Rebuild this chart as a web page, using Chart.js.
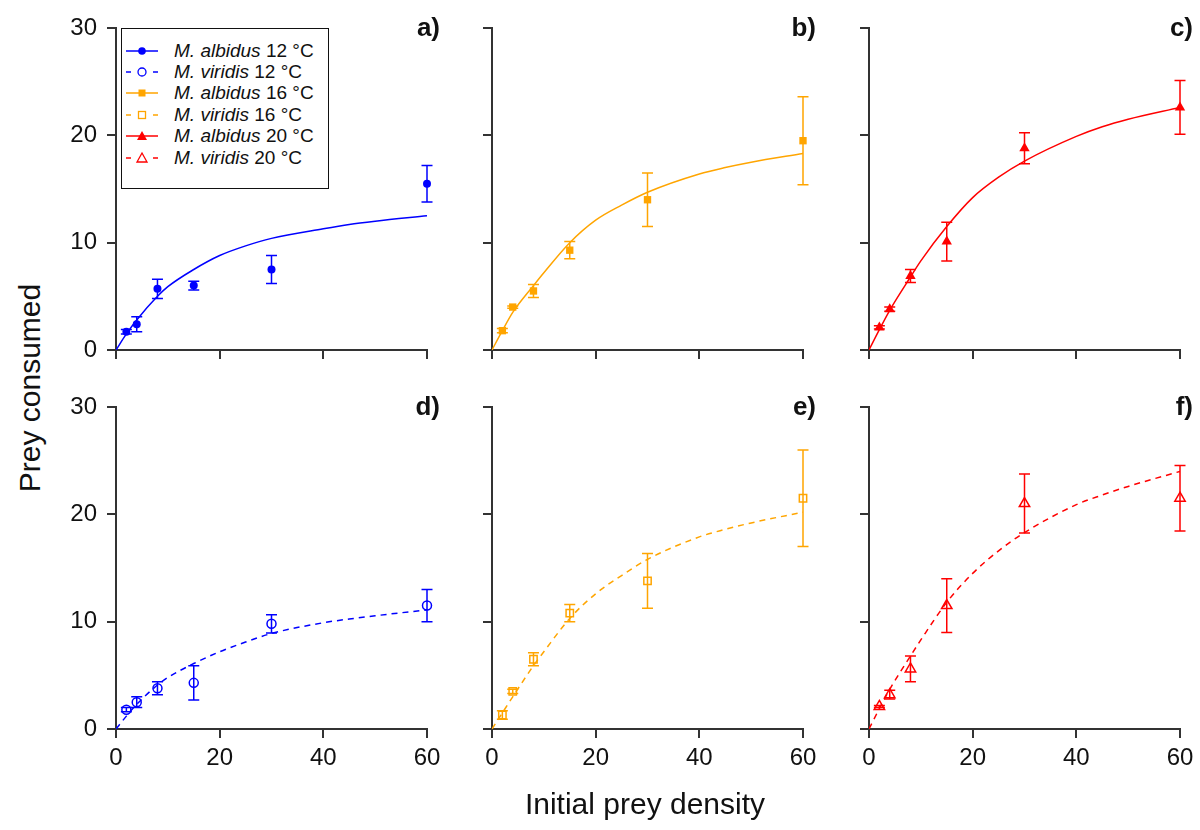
<!DOCTYPE html>
<html>
<head>
<meta charset="utf-8">
<script src="https://cdn.jsdelivr.net/npm/chart.js@4.4.1/dist/chart.umd.min.js"></script>
<style>
  body { margin: 0; width: 1200px; height: 830px; background: #fff; position: relative; overflow: hidden;
         font-family: "Liberation Sans", Arial, sans-serif; color: #111; }
  canvas { position: absolute; }
  .tag { position: absolute; width: 60px; text-align: right; font-weight: bold; font-size: 26px; line-height: 26px; }
  .axis-title { position: absolute; font-size: 30px; white-space: nowrap; transform: translate(-50%, -50%); }
  .legend { position: absolute; left: 121px; top: 28px; width: 206px; height: 148px; border: 1px solid #111;
            background: #fff; padding-top: 11px; box-sizing: content-box; }
  .legend .row { height: 21.4px; display: flex; align-items: center; font-size: 19px; white-space: nowrap; }
  .legend svg { margin-left: 4px; margin-right: 16px; }
</style>
</head>
<body>
<script>
// Initial prey density of the trials
const preyDensity = [2, 4, 8, 15, 30, 60];
const curveDensity = [0, 2, 4, 8, 10, 15, 20, 25, 30, 40, 45, 50, 60];
const xTicks = [0, 20, 40, 60];
const yTicks = [0, 10, 20, 30];

// mean prey consumed and error (half length of bar)
const albidus12Mean = [1.7, 2.4, 5.7, 6.0, 7.5, 15.5];
const albidus12Err  = [0.2, 0.7, 0.9, 0.4, 1.3, 1.7];
const albidus16Mean = [1.8, 4.0, 5.5, 9.3, 14.0, 19.5];
const albidus16Err  = [0.2, 0.1, 0.6, 0.8, 2.5, 4.1];
const albidus20Mean = [2.1, 3.8, 6.9, 10.1, 18.8, 22.6];
const albidus20Err  = [0.15, 0.2, 0.6, 1.8, 1.45, 2.5];
const viridis12Mean = [1.8, 2.5, 3.8, 4.3, 9.8, 11.5];
const viridis12Err  = [0.2, 0.5, 0.6, 1.6, 0.85, 1.5];
const viridis16Mean = [1.3, 3.5, 6.5, 10.8, 13.8, 21.5];
const viridis16Err  = [0.4, 0.2, 0.6, 0.8, 2.55, 4.5];
const viridis20Mean = [2.1, 3.2, 5.6, 11.5, 21.0, 21.5];
const viridis20Err  = [0.1, 0.4, 1.2, 2.5, 2.75, 3.05];

// fitted functional response curves (read at curveDensity)
const albidus12Fit = [0, 1.5, 2.8, 5.0, 5.9, 7.5, 8.8, 9.7, 10.4, 11.3, 11.7, 12.0, 12.5];
const albidus16Fit = [0, 1.8, 3.5, 6.0, 7.2, 10.0, 12.1, 13.5, 14.7, 16.4, 17.0, 17.5, 18.3];
const albidus20Fit = [0, 1.9, 3.7, 6.8, 8.3, 11.5, 14.2, 16.1, 17.6, 19.9, 20.8, 21.5, 22.6];
const viridis12Fit = [0, 1.2, 2.3, 4.1, 4.8, 6.1, 7.2, 8.1, 8.9, 9.9, 10.25, 10.55, 11.1];
const viridis16Fit = [0, 1.5, 3.0, 5.9, 7.2, 10.3, 12.6, 14.3, 15.8, 17.9, 18.6, 19.2, 20.2];
const viridis20Fit = [0, 1.9, 3.7, 6.8, 8.3, 11.8, 14.5, 16.6, 18.3, 20.9, 21.8, 22.6, 24.0];

const BLUE = '#0000ff', ORANGE = '#ffa500', RED = '#ff0000';
const FONT = '"Liberation Sans", Arial, sans-serif';

const panels = [
  { tag: 'a)', mean: albidus12Mean, err: albidus12Err, fit: albidus12Fit, color: BLUE,   marker: 'circle',   open: false, col: 0, row: 0 },
  { tag: 'b)', mean: albidus16Mean, err: albidus16Err, fit: albidus16Fit, color: ORANGE, marker: 'rect',     open: false, col: 1, row: 0 },
  { tag: 'c)', mean: albidus20Mean, err: albidus20Err, fit: albidus20Fit, color: RED,    marker: 'triangle', open: false, col: 2, row: 0 },
  { tag: 'd)', mean: viridis12Mean, err: viridis12Err, fit: viridis12Fit, color: BLUE,   marker: 'circle',   open: true,  col: 0, row: 1 },
  { tag: 'e)', mean: viridis16Mean, err: viridis16Err, fit: viridis16Fit, color: ORANGE, marker: 'rect',     open: true,  col: 1, row: 1 },
  { tag: 'f)', mean: viridis20Mean, err: viridis20Err, fit: viridis20Fit, color: RED,    marker: 'triangle', open: true,  col: 2, row: 1 }
];

const colLeft = [116, 492, 869];
const rowTop = [28, 407];
const plotW = 311, plotH = 322;
const padTop = 30, padRight = 20, yAxisW = 60, xAxisH = 50;

// vertical error bars with caps
const errorBars = {
  id: 'errorBars',
  beforeDatasetsDraw(chart) {
    const ds = chart.data.datasets[1];
    const { ctx, scales: { x, y } } = chart;
    ctx.save();
    ctx.strokeStyle = ds.pointBorderColor;
    ctx.lineWidth = 1.5;
    ds.data.forEach((pt, i) => {
      const e = ds.errors[i];
      const px = x.getPixelForValue(pt.x);
      const top = y.getPixelForValue(pt.y + e);
      const bot = y.getPixelForValue(pt.y - e);
      ctx.beginPath();
      ctx.moveTo(px, top); ctx.lineTo(px, bot);
      ctx.moveTo(px - 5.5, top); ctx.lineTo(px + 5.5, top);
      ctx.moveTo(px - 5.5, bot); ctx.lineTo(px + 5.5, bot);
      ctx.stroke();
    });
    ctx.restore();
  }
};

function markerSize(p) {
  if (p.marker === 'rect') return 5.2;
  if (p.marker === 'triangle') return 6;
  return p.open ? 4.5 : 4;
}

panels.forEach(p => {
  const left = colLeft[p.col], top = rowTop[p.row];
  const canvas = document.createElement('canvas');
  canvas.width = plotW + yAxisW + padRight;
  canvas.height = plotH + padTop + xAxisH;
  canvas.style.left = (left - yAxisW) + 'px';
  canvas.style.top = (top - padTop) + 'px';
  document.body.appendChild(canvas);

  const tag = document.createElement('div');
  tag.className = 'tag';
  tag.textContent = p.tag;
  tag.style.left = (left + plotW + 13 - 60) + 'px';
  tag.style.top = (top - 14) + 'px';
  document.body.appendChild(tag);

  const axisGrid = { drawOnChartArea: false, drawTicks: true, tickLength: 9, color: '#333', lineWidth: 2 };
  const axisBorder = { color: '#333', width: 2 };

  new Chart(canvas, {
    type: 'line',
    data: {
      datasets: [
        {
          data: curveDensity.map((x, i) => ({ x, y: p.fit[i] })),
          borderColor: p.color,
          borderWidth: 1.5,
          borderDash: p.open ? [6, 5] : [],
          pointRadius: 0,
          cubicInterpolationMode: 'monotone',
          fill: false
        },
        {
          data: preyDensity.map((x, i) => ({ x, y: p.mean[i] })),
          errors: p.err,
          showLine: false,
          clip: false,
          pointStyle: p.marker,
          pointRadius: markerSize(p),
          pointBackgroundColor: p.open ? 'rgba(0,0,0,0)' : p.color,
          pointBorderColor: p.color,
          pointBorderWidth: p.open ? 1.5 : 0
        }
      ]
    },
    options: {
      responsive: false,
      animation: false,
      events: [],
      layout: { padding: { top: padTop, right: padRight, left: 0, bottom: 0 } },
      plugins: { legend: { display: false }, tooltip: { enabled: false } },
      scales: {
        x: {
          type: 'linear', min: 0, max: 60,
          afterBuildTicks: s => { s.ticks = xTicks.map(v => ({ value: v })); },
          afterFit: s => { s.height = xAxisH; },
          ticks: { display: p.row === 1, color: '#111', font: { size: 24, family: FONT }, padding: 6, maxRotation: 0 },
          grid: axisGrid,
          border: axisBorder
        },
        y: {
          min: 0, max: 30,
          afterBuildTicks: s => { s.ticks = yTicks.map(v => ({ value: v })); },
          afterFit: s => { s.width = yAxisW; },
          ticks: { display: p.col === 0, color: '#111', font: { size: 24, family: FONT }, padding: 10 },
          grid: axisGrid,
          border: axisBorder
        }
      }
    },
    plugins: [errorBars]
  });
});

// legend in panel a
const legendSpecies = ['M. albidus', 'M. viridis'];
const legendTemps = ['12 °C', '16 °C', '20 °C'];
const legendColors = [BLUE, ORANGE, RED];
const legendMarkers = ['circle', 'rect', 'triangle'];

function markerSvg(kind, color, open) {
  const fill = open ? 'none' : color;
  const stroke = open ? `stroke="${color}" stroke-width="1.3"` : '';
  if (kind === 'circle') return `<circle cx="16" cy="8" r="${open ? 4 : 3.8}" fill="${fill}" ${stroke}/>`;
  if (kind === 'rect') return `<rect x="12.5" y="4.5" width="7" height="7" fill="${fill}" ${stroke}/>`;
  return `<polygon points="16,3 21,12 11,12" fill="${fill}" ${stroke}/>`;
}

const legend = document.createElement('div');
legend.className = 'legend';
legendTemps.forEach((t, ti) => {
  legendSpecies.forEach((s, si) => {
    const open = si === 1;
    const c = legendColors[ti];
    const line = open
      ? `<line x1="0" y1="8" x2="5" y2="8" stroke="${c}" stroke-width="1.5"/><line x1="27" y1="8" x2="32" y2="8" stroke="${c}" stroke-width="1.5"/>`
      : `<line x1="0" y1="8" x2="32" y2="8" stroke="${c}" stroke-width="1.5"/>`;
    const row = document.createElement('div');
    row.className = 'row';
    row.innerHTML = `<svg width="32" height="16">${line}${markerSvg(legendMarkers[ti], c, open)}</svg><span><i>${s}</i> ${t}</span>`;
    legend.appendChild(row);
  });
});
document.body.appendChild(legend);

const yTitle = document.createElement('div');
yTitle.className = 'axis-title';
yTitle.textContent = 'Prey consumed';
yTitle.style.left = '30px';
yTitle.style.top = '388px';
yTitle.style.transform = 'translate(-50%, -50%) rotate(-90deg)';
document.body.appendChild(yTitle);

const xTitle = document.createElement('div');
xTitle.className = 'axis-title';
xTitle.textContent = 'Initial prey density';
xTitle.style.left = '645px';
xTitle.style.top = '804px';
document.body.appendChild(xTitle);
</script>
</body>
</html>
